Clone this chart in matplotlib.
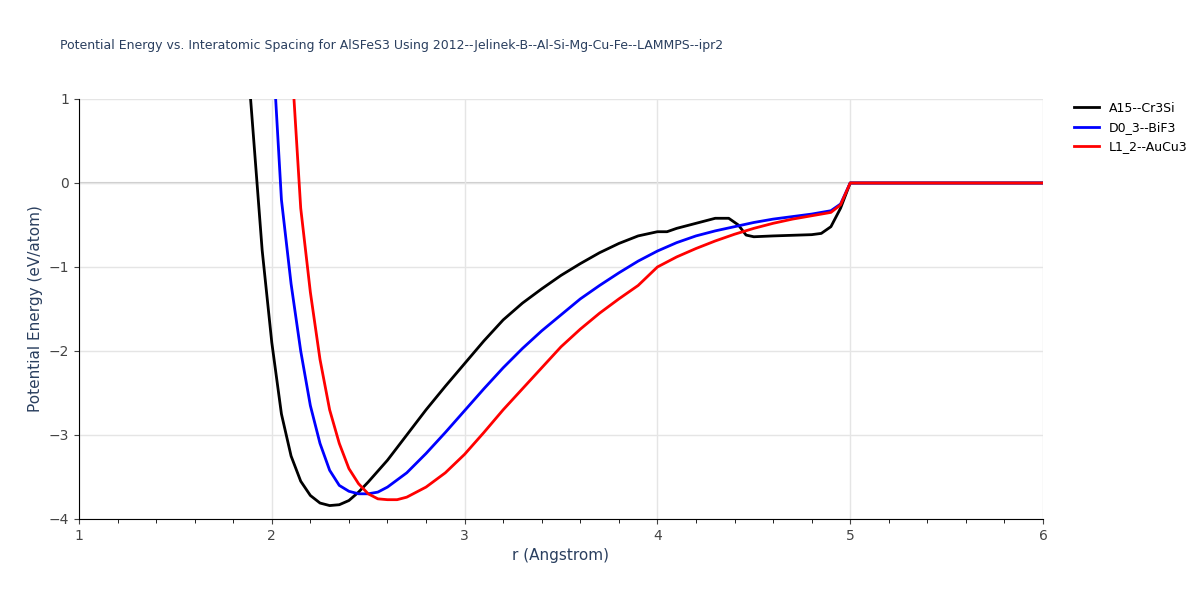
import matplotlib
matplotlib.use("Agg")
import matplotlib.pyplot as plt

title = "Potential Energy vs. Interatomic Spacing for AlSFeS3 Using 2012--Jelinek-B--Al-Si-Mg-Cu-Fe--LAMMPS--ipr2"

r_a15 = [1.89, 1.95, 2.0, 2.05, 2.1, 2.15, 2.2, 2.25, 2.3, 2.35, 2.4, 2.45, 2.5, 2.6, 2.7, 2.8,
         2.9, 3.0, 3.1, 3.2, 3.3, 3.4, 3.5, 3.6, 3.7, 3.8, 3.9, 4.0, 4.05, 4.1, 4.2, 4.3, 4.37,
         4.42, 4.46, 4.5, 4.6, 4.8, 4.85, 4.9, 4.95, 5.0, 6.0]
e_a15 = [1.0, -0.8, -1.9, -2.75, -3.25, -3.55, -3.72, -3.81, -3.84, -3.83, -3.78, -3.68, -3.56,
         -3.3, -3.0, -2.7, -2.42, -2.15, -1.88, -1.63, -1.43, -1.26, -1.1, -0.96, -0.83, -0.72,
         -0.63, -0.58, -0.58, -0.54, -0.48, -0.42, -0.42, -0.5, -0.62, -0.64, -0.63, -0.615,
         -0.6, -0.52, -0.3, 0.0, 0.0]

r_d03 = [2.02, 2.05, 2.1, 2.15, 2.2, 2.25, 2.3, 2.35, 2.4, 2.45, 2.5, 2.55, 2.6, 2.7, 2.8, 2.9,
         3.0, 3.1, 3.2, 3.3, 3.4, 3.5, 3.6, 3.7, 3.8, 3.9, 4.0, 4.1, 4.2, 4.3, 4.4, 4.5, 4.6,
         4.7, 4.8, 4.9, 4.95, 5.0, 6.0]
e_d03 = [1.0, -0.2, -1.2, -2.0, -2.65, -3.1, -3.42, -3.6, -3.67, -3.7, -3.7, -3.68, -3.62,
         -3.45, -3.22, -2.97, -2.71, -2.45, -2.2, -1.97, -1.76, -1.57, -1.38, -1.22, -1.07,
         -0.93, -0.81, -0.71, -0.63, -0.57, -0.52, -0.47, -0.43, -0.4, -0.37, -0.33, -0.25,
         0.0, 0.0]

r_l12 = [2.115, 2.15, 2.2, 2.25, 2.3, 2.35, 2.4, 2.45, 2.5, 2.55, 2.6, 2.65, 2.7, 2.8, 2.9,
         3.0, 3.1, 3.2, 3.3, 3.4, 3.5, 3.6, 3.7, 3.8, 3.9, 4.0, 4.1, 4.2, 4.3, 4.4, 4.5, 4.6,
         4.7, 4.8, 4.9, 4.95, 5.0, 6.0]
e_l12 = [1.0, -0.3, -1.3, -2.1, -2.7, -3.1, -3.4, -3.58, -3.7, -3.76, -3.77, -3.77, -3.74,
         -3.62, -3.45, -3.23, -2.97, -2.7, -2.45, -2.2, -1.95, -1.74, -1.55, -1.38, -1.22,
         -1.0, -0.88, -0.78, -0.69, -0.61, -0.54, -0.48, -0.43, -0.39, -0.35, -0.26, 0.0, 0.0]

series = [("A15--Cr3Si", r_a15, e_a15, "black"),
          ("D0_3--BiF3", r_d03, e_d03, "blue"),
          ("L1_2--AuCu3", r_l12, e_l12, "red")]

fig = plt.figure(figsize=(12, 6), dpi=100)
ax = fig.add_axes([79 / 1200, 1 - 519 / 600, (1043 - 79) / 1200, (519 - 99) / 600])
for lbl, r, e, col in series:
    ax.plot(r, e, color=col, linewidth=2, label=lbl)

ax.set_xlim(1, 6)
ax.set_ylim(-4, 1)
ax.set_xticks([1, 2, 3, 4, 5, 6])
ax.set_xticks([1.2, 1.4, 1.6, 1.8, 2.2, 2.4, 2.6, 2.8, 3.2, 3.4, 3.6, 3.8, 4.2, 4.4, 4.6,
               4.8, 5.2, 5.4, 5.6, 5.8], minor=True)
ax.set_yticks([-4, -3, -2, -1, 0, 1])
ax.set_yticklabels(["\u22124", "\u22123", "\u22122", "\u22121", "0", "1"])
ax.grid(axis="y", color="#e5e5e5", linewidth=1)
ax.grid(axis="x", which="major", color="#e5e5e5", linewidth=1)
ax.axhline(0, color="#cccccc", linewidth=1.5, zorder=0)
for s in ["top", "right"]:
    ax.spines[s].set_visible(False)
ax.tick_params(colors="#444444", labelsize=10)
ax.tick_params(which="minor", length=3)
ax.set_xlabel("r (Angstrom)", color="#2a3f5f", fontsize=11)
ax.set_ylabel("Potential Energy (eV/atom)", color="#2a3f5f", fontsize=11)
fig.text(60 / 1200, 1 - 45 / 600, title, fontsize=9, color="#2a3f5f", va="center")
ax.legend(loc="upper left", bbox_to_anchor=(1.02, 1.02), frameon=False, fontsize=9)

fig.savefig("out.png")
